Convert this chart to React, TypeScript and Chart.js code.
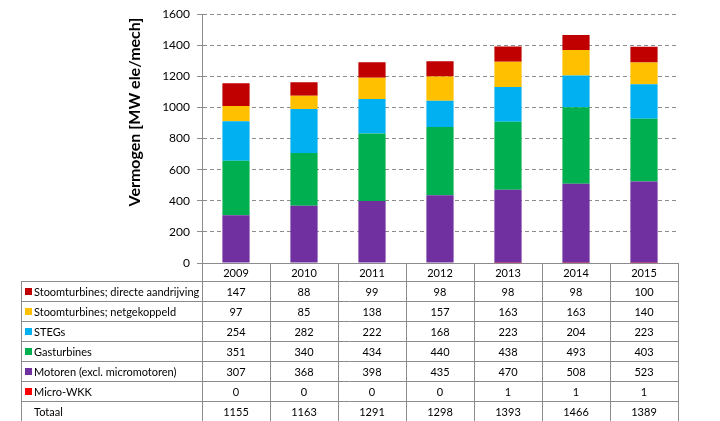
import React, { useEffect, useRef } from "react";
import { Chart, registerables } from "chart.js";

Chart.register(...registerables);

const years = ["2009", "2010", "2011", "2012", "2013", "2014", "2015"];
const microWkk = [0, 0, 0, 0, 1, 1, 1];
const motoren = [307, 368, 398, 435, 470, 508, 523];
const gasturbines = [351, 340, 434, 440, 438, 493, 403];
const stegs = [254, 282, 222, 168, 223, 204, 223];
const netgekoppeld = [97, 85, 138, 157, 163, 163, 140];
const directe = [147, 88, 99, 98, 98, 98, 100];
const totaal = [1155, 1163, 1291, 1298, 1393, 1466, 1389];
const yTicks = { min: 0, max: 1600, step: 200 };
const yTitle = "Vermogen [MW ele/mech]";

const series = [
  { label: "Micro-WKK", data: microWkk, color: "#FF0000" },
  { label: "Motoren (excl. micromotoren)", data: motoren, color: "#7030A0" },
  { label: "Gasturbines", data: gasturbines, color: "#00B050" },
  { label: "STEGs", data: stegs, color: "#00B0F0" },
  { label: "Stoomturbines; netgekoppeld", data: netgekoppeld, color: "#FFC000" },
  { label: "Stoomturbines; directe aandrijving", data: directe, color: "#C00000" },
];

const FONT = "Lato, 'Open Sans', sans-serif";

const tablePlugin = {
  id: "dataTable",
  afterDraw(chart: any) {
    const { ctx, chartArea } = chart;
    const xs = chart.scales.x;
    const n = years.length;
    const left = chartArea.left;
    const right = chartArea.right;
    const bottom = chartArea.bottom;
    const cw = (right - left) / n;
    const tableLeft = 21;
    const headerH = 18;
    const rowH = 20;
    const rows = [...series].reverse();
    const totalRows = rows.length + 1;
    const endY = chart.height;
    const lineColor = "#8C8C8C";

    ctx.save();
    ctx.strokeStyle = lineColor;
    ctx.lineWidth = 1;
    ctx.setLineDash([]);
    const hline = (x1: number, x2: number, y: number) => {
      ctx.beginPath();
      ctx.moveTo(x1, Math.round(y) + 0.5);
      ctx.lineTo(x2, Math.round(y) + 0.5);
      ctx.stroke();
    };
    const vline = (x: number, y1: number, y2: number) => {
      ctx.beginPath();
      ctx.moveTo(Math.round(x) + 0.5, y1);
      ctx.lineTo(Math.round(x) + 0.5, y2);
      ctx.stroke();
    };
    hline(left, right, bottom);
    const firstRowTop = bottom + headerH;
    for (let r = 0; r < totalRows; r++) {
      hline(tableLeft, right, firstRowTop + r * rowH);
    }
    vline(tableLeft, firstRowTop, endY);
    for (let i = 0; i <= n; i++) {
      vline(left + i * cw, bottom, endY);
    }

    ctx.fillStyle = "#000000";
    ctx.font = `11px ${FONT}`;
    ctx.textAlign = "center";
    ctx.textBaseline = "middle";
    years.forEach((y, i) => {
      ctx.fillText(y, xs.getPixelForValue(i), bottom + headerH / 2 + 1);
    });

    const allRows = [
      ...rows.map((s) => ({ label: s.label, data: s.data, color: s.color as string | null })),
      { label: "Totaal", data: totaal, color: null as string | null },
    ];
    allRows.forEach((row, r) => {
      const cy = firstRowTop + r * rowH + rowH / 2 + 1;
      if (row.color) {
        ctx.fillStyle = row.color;
        ctx.fillRect(25, Math.round(cy) - 4, 7, 7);
      }
      ctx.fillStyle = "#000000";
      ctx.textAlign = "left";
      ctx.fillText(row.label, 34, cy, left - 36);
      ctx.textAlign = "center";
      row.data.forEach((v, i) => {
        ctx.fillText(String(v), xs.getPixelForValue(i), cy);
      });
    });

    ctx.save();
    ctx.translate(135, 112);
    ctx.rotate(-Math.PI / 2);
    ctx.font = `bold 16px ${FONT}`;
    ctx.fillStyle = "#000000";
    ctx.textAlign = "center";
    ctx.textBaseline = "middle";
    ctx.fillText(yTitle, 0, 0);
    ctx.restore();

    ctx.restore();
  },
};

export default function App() {
  const ref = useRef<HTMLCanvasElement>(null);
  useEffect(() => {
    document.body.style.margin = "0";
    const chart = new Chart(ref.current as HTMLCanvasElement, {
      type: "bar",
      data: {
        labels: years,
        datasets: series.map((s) => ({
          label: s.label,
          data: s.data,
          backgroundColor: s.color,
          borderWidth: 0,
          barPercentage: 0.4,
          categoryPercentage: 1,
        })),
      },
      options: {
        animation: false,
        responsive: false,
        maintainAspectRatio: false,
        layout: { padding: { left: 0, top: 12, right: 42, bottom: 158 } },
        plugins: {
          legend: { display: false },
          tooltip: { enabled: false },
          title: { display: false },
        },
        scales: {
          x: { stacked: true, display: false },
          y: {
            stacked: true,
            min: yTicks.min,
            max: yTicks.max,
            ticks: {
              stepSize: yTicks.step,
              color: "#000000",
              font: { family: FONT, size: 12 },
              padding: 7,
              callback: (v: any) => String(v),
            },
            grid: { color: "#8C8C8C", tickLength: 5, lineWidth: 1 },
            border: { display: true, color: "#8C8C8C", dash: [4, 3] },
            afterFit: (s: any) => {
              s.width = 202;
            },
          },
        },
      },
      plugins: [tablePlugin],
    });
    return () => chart.destroy();
  }, []);
  return (
    <div style={{ position: "absolute", left: 0, top: 0, width: 720, height: 421, background: "#fff" }}>
      <canvas ref={ref} width={720} height={421} />
    </div>
  );
}
